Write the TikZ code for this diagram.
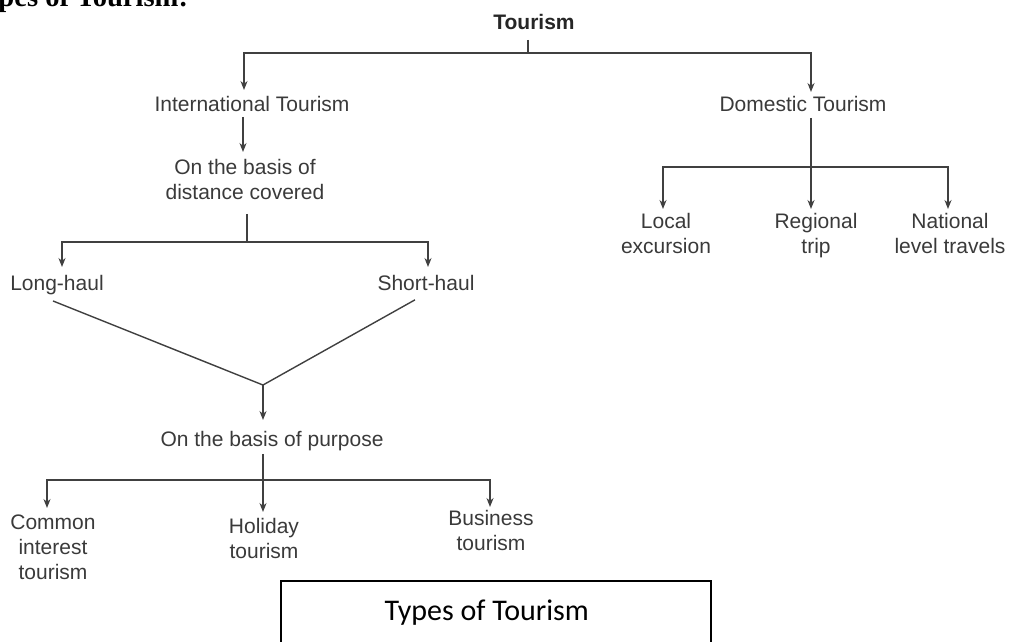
\documentclass[tikz,border=0pt]{standalone}
\usepackage{fontspec}
\setmainfont{Liberation Sans}
\newfontfamily\titlefont{Liberation Serif}
\newfontfamily\capfont{Carlito}
\usetikzlibrary{arrows.meta}
\definecolor{txt}{HTML}{3A3A3A}
\definecolor{ln}{HTML}{404040}
\begin{document}
\begin{tikzpicture}[x=1pt,y=-1pt,
  lbl/.style={font=\fontsize{21}{25}\selectfont, text=txt, inner sep=0pt, align=center, anchor=north},
  conn/.style={draw=ln, line width=1.4pt},
  arr/.style={conn, -{Stealth[length=9pt,width=7pt]}}]
\useasboundingbox (0,0) rectangle (1009,641);
\begin{scope}
\clip (0,0) rectangle (1009,641);
\node[anchor=base west, inner sep=0pt, font=\titlefont\bfseries\fontsize{28.6}{30}\selectfont] (title) at (-33,6) {Types of Tourism:};
\end{scope}

% nodes
\node[lbl, font=\bfseries\fontsize{21}{25}\selectfont, text=black!85] (tourism) at (534,14) {Tourism};
\node[lbl] (intl) at (252,96) {International Tourism};
\node[lbl] (dom) at (803,96) {Domestic Tourism};
\node[lbl] (basis1) at (245,159) {On the basis of\\distance covered};
\node[lbl] (long) at (57,275) {Long-haul};
\node[lbl] (short) at (426,275) {Short-haul};
\node[lbl] (purpose) at (272,431) {On the basis of purpose};
\node[lbl] (local) at (666,213) {Local\\excursion};
\node[lbl] (regional) at (816,213) {Regional\\trip};
\node[lbl] (national) at (950,213) {National\\level travels};
\node[lbl] (common) at (53,515) {Common\\interest\\tourism};
\node[lbl] (holiday) at (264,518) {Holiday\\tourism};
\node[lbl] (business) at (491,510) {Business\\tourism};

\node[draw=black, line width=1.5pt, minimum width=430pt, minimum height=64pt, anchor=north west,
      inner sep=0pt, font=\capfont\fontsize{30}{34}\selectfont] (caption) at (280,580) {\hspace*{-18pt}Types of Tourism};

% junctions
\coordinate (j1) at (528,53);
\coordinate (j2) at (247,242);
\coordinate (j3) at (263,385);
\coordinate (j4) at (263,480);
\coordinate (j5) at (811,167);

% connectors
\draw[conn] ([xshift=-6pt,yshift=-10pt]tourism.south) -- (j1);
\draw[arr] (j1) -| ([xshift=-8pt,yshift=6pt]intl.north);
\draw[arr] (j1) -| ([xshift=8pt,yshift=4pt]dom.north);
\draw[arr] ([xshift=-9pt,yshift=-5pt]intl.south) -- ([xshift=-2pt,yshift=7pt]basis1.north);
\draw[conn] ([xshift=2pt,yshift=-14pt]basis1.south) -- (j2);
\draw[arr] (j2) -| ([xshift=5pt,yshift=8pt]long.north);
\draw[arr] (j2) -| ([xshift=2pt,yshift=8pt]short.north);
\draw[conn] ([xshift=-4pt,yshift=-6pt]long.south) -- (j3) -- ([xshift=-11pt,yshift=-9pt]short.south);
\draw[arr] (j3) -- ([xshift=-9pt,yshift=11pt]purpose.north);
\draw[conn] ([xshift=-9pt,yshift=-3pt]purpose.south) -- (j4);
\draw[arr] (j4) -| ([xshift=-6pt,yshift=7pt]common.north);
\draw[arr] (j4) -- ([xshift=-1pt,yshift=6pt]holiday.north);
\draw[arr] (j4) -| ([xshift=-1pt,yshift=3pt]business.north);
\draw[conn] ([xshift=8pt,yshift=-6pt]dom.south) -- (j5);
\draw[arr] (j5) -| ([xshift=-3pt,yshift=4pt]local.north);
\draw[arr] (j5) -- ([xshift=-5pt,yshift=4pt]regional.north);
\draw[arr] (j5) -| ([xshift=-2pt,yshift=4pt]national.north);
\end{tikzpicture}
\end{document}
